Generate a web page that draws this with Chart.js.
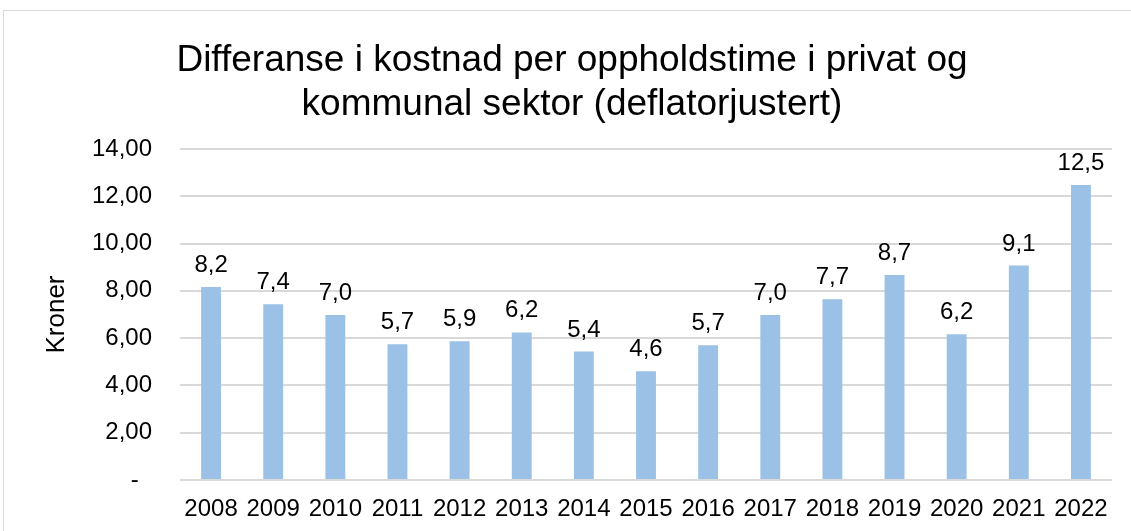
<!DOCTYPE html>
<html>
<head>
<meta charset="utf-8">
<script src="https://cdn.jsdelivr.net/npm/chart.js@4/dist/chart.umd.min.js"></script>
<style>
  html, body { margin: 0; padding: 0; background: #fff; }
  #wrap { position: relative; width: 1131px; height: 531px; overflow: hidden; }
  #frame { position: absolute; left: 3px; top: 10px; width: 1140px; height: 540px; border: 1px solid #D9D9D9; box-sizing: border-box; }
  canvas { position: absolute; left: 0; top: 0; }
</style>
</head>
<body>
<div id="wrap">
  <div id="frame"></div>
  <canvas id="c" width="1131" height="531"></canvas>
</div>
<script>
const categories = ["2008","2009","2010","2011","2012","2013","2014","2015","2016","2017","2018","2019","2020","2021","2022"];
const values = [8.16, 7.43, 6.98, 5.74, 5.87, 6.24, 5.43, 4.6, 5.7, 6.98, 7.65, 8.67, 6.16, 9.07, 12.48];
const yTicks = [0, 2, 4, 6, 8, 10, 12, 14];
const titleLines = ["Differanse i kostnad per oppholdstime i privat og", "kommunal sektor (deflatorjustert)"];
const yAxisTitle = "Kroner";

const FONT = "'Liberation Sans', Arial, sans-serif";

const overlay = {
  id: 'overlay',
  afterDatasetsDraw(chart) {
    const ctx = chart.ctx;
    ctx.save();
    // data labels
    const meta = chart.getDatasetMeta(0);
    ctx.fillStyle = '#000';
    ctx.font = '24px ' + FONT;
    ctx.textAlign = 'center';
    ctx.textBaseline = 'alphabetic';
    meta.data.forEach((bar, i) => {
      const txt = values[i].toFixed(1).replace('.', ',');
      ctx.fillText(txt, bar.x, bar.y - 15);
    });
    // title
    ctx.font = '37px ' + FONT;
    ctx.fillText(titleLines[0], 572, 71);
    ctx.fillText(titleLines[1], 572, 115);
    // y axis title
    ctx.font = '26px ' + FONT;
    ctx.translate(57, (chart.chartArea.top + chart.chartArea.bottom) / 2);
    ctx.rotate(-Math.PI / 2);
    ctx.textBaseline = 'middle';
    ctx.fillText(yAxisTitle, 0, 0);
    ctx.restore();
  }
};

new Chart(document.getElementById('c'), {
  type: 'bar',
  data: {
    labels: categories,
    datasets: [{
      data: values,
      backgroundColor: '#9BC2E6',
      borderWidth: 0,
      categoryPercentage: 1.0,
      barPercentage: 0.32
    }]
  },
  options: {
    responsive: false,
    animation: false,
    devicePixelRatio: 1,
    layout: { padding: { top: 149, right: 19, left: 0, bottom: 0 } },
    plugins: { legend: { display: false }, title: { display: false }, tooltip: { enabled: false } },
    scales: {
      x: {
        grid: { display: false, drawTicks: false },
        border: { display: false },
        ticks: { color: '#000', font: { family: FONT, size: 24 }, padding: 15, maxRotation: 0, autoSkip: false },
        afterFit(scale) { scale.height = 51; }
      },
      y: {
        min: 0, max: 14,
        afterBuildTicks(scale) { scale.ticks = yTicks.map(v => ({ value: v })); },
        grid: { color: '#D9D9D9', lineWidth: 2, drawTicks: false },
        border: { display: false },
        ticks: {
          color: '#000', font: { family: FONT, size: 24 }, padding: 28,
          callback: (v) => v === 0 ? '-  ' : v.toFixed(2).replace('.', ',')
        },
        afterFit(scale) { scale.width = 180; }
      }
    }
  },
  plugins: [overlay]
});
</script>
</body>
</html>
